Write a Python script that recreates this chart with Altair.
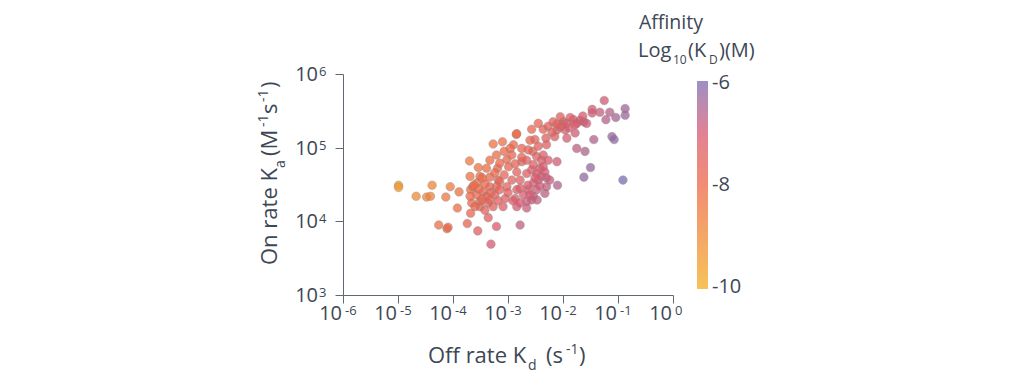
import altair as alt
import pandas as pd

# log10 of off rate Kd (s^-1) and on rate Ka (M^-1 s^-1)
log_kd = [-4.99, -4.99, -4.67, -4.48, -4.41, -4.38, -4.13, -4.05, -3.89, -3.92,
          -4.26, -4.11, -4.09, -3.74, -3.55, -3.36, -3.21, -3.31, -2.78, -3.68,
          -3.51, -3.66, -3.70, -3.27, -3.10, -2.85, -2.90, -3.21, -3.07, -3.02,
          -2.96, -2.75, -3.54, -3.39, -3.19, -3.69, -3.51, -3.33, -3.18, -2.99,
          -2.84, -2.75, -3.68, -3.57, -3.45, -3.39, -3.51, -3.36, -3.24, -3.15,
          -3.02, -2.93, -2.84, -2.72, -2.63, -2.54, -2.45, -2.54, -2.66, -2.87,
          -3.05, -3.09, -2.66, -2.55, -2.48, -2.39, -2.42, -2.48, -2.39, -2.30,
          -2.24, -2.10, -2.33, -2.11, -2.51, -2.30, -2.57, -2.45, -2.36, -2.27,
          -2.18, -2.11, -2.05, -1.99, -1.96, -1.93, -1.87, -1.81, -1.69, -1.62,
          -1.78, -1.93, -2.15, -1.75, -1.60, -1.44, -1.11, -1.07, -1.50, -1.62,
          -0.91, -1.47, -1.47, -1.33, -1.15, -0.87, -0.87, -1.04, -1.22, -1.25,
          -2.84, -2.66, -2.57, -2.78, -3.21, -3.33, -3.57, -3.69, -3.60, -3.42,
          -3.27, -2.84, -2.66, -2.57, -2.48, -2.30, -3.33, -3.15, -2.93, -2.63,
          -2.36, -2.54, -1.75, -1.57, -2.02, -3.64, -3.47, -3.31, -3.15, -3.00,
          -2.91, -2.78, -2.64, -2.51, -2.42, -2.33, -2.60, -2.47, -2.78, -3.18,
          -3.42, -3.53, -2.05, -1.89, -2.11, -2.20, -1.78, -2.31, -2.45, -2.60,
          -2.75, -2.87, -3.07, -3.24, -3.47, -3.62, -3.33, -2.27, -2.36, -1.64]
log_ka = [4.49, 4.46, 4.34, 4.33, 4.34, 4.49, 4.33, 4.47, 4.40, 4.18,
          3.95, 3.90, 3.92, 3.97, 3.87, 4.05, 3.93, 3.69, 3.95, 4.11,
          4.20, 4.25, 4.82, 5.05, 5.08, 5.18, 5.04, 4.90, 4.95, 4.84,
          4.99, 4.99, 4.73, 4.72, 4.72, 4.61, 4.61, 4.60, 4.56, 4.74,
          4.67, 4.81, 4.43, 4.36, 4.40, 4.34, 4.27, 4.25, 4.36, 4.54,
          4.47, 4.56, 4.43, 4.36, 4.43, 4.52, 4.56, 4.34, 4.27, 4.31,
          4.31, 4.20, 4.83, 4.95, 4.88, 4.83, 4.72, 4.65, 4.61, 4.59,
          4.56, 4.49, 4.38, 4.81, 5.11, 5.04, 5.25, 5.33, 5.25, 5.29,
          5.35, 5.24, 5.42, 5.35, 5.24, 5.33, 5.41, 5.38, 5.37, 5.35,
          5.20, 5.13, 5.15, 4.99, 4.95, 5.11, 5.15, 5.11, 4.73, 4.60,
          4.56, 5.52, 5.47, 5.48, 5.48, 5.53, 5.44, 5.41, 5.38, 5.64,
          5.19, 4.65, 4.70, 4.56, 4.47, 4.47, 4.52, 4.34, 4.20, 4.15,
          4.20, 4.20, 4.18, 4.29, 4.43, 4.47, 4.83, 4.79, 4.90, 4.97,
          4.74, 4.77, 5.33, 5.33, 5.31, 4.47, 4.30, 4.39, 4.43, 4.39,
          4.28, 4.45, 4.49, 4.59, 4.48, 4.67, 4.36, 4.29, 4.25, 4.28,
          4.51, 4.44, 5.28, 5.27, 5.32, 5.21, 5.31, 5.13, 5.02, 5.10,
          4.87, 4.78, 4.63, 4.66, 4.59, 4.49, 4.29, 4.83, 4.90, 5.43]

x_ticks = [1e-6, 1e-5, 1e-4, 1e-3, 1e-2, 1e-1, 1e0]
x_exps = ["-6", "-5", "-4", "-3", "-2", "-1", "0"]
y_ticks = [1e3, 1e4, 1e5, 1e6]
y_exps = ["3", "4", "5", "6"]
legend_values = [-10, -8, -6]
color_domain = [-10.04, -8, -7, -5.96]
color_range = ["#f4ae24", "#ee6848", "#da5a72", "#7c6eb2"]

FONT = "Open Sans"
INK = "#3d4755"
AXC = "#5f6873"
W, H = 330, 221

df = pd.DataFrame({"kd": [10 ** v for v in log_kd], "ka": [10 ** v for v in log_ka]})
xdf = pd.DataFrame({"v": x_ticks, "e": x_exps})
ydf = pd.DataFrame({"v": y_ticks, "e": y_exps})

xs = alt.Scale(type="log", domain=[1e-6, 1], nice=False)
ys = alt.Scale(type="log", domain=[1e3, 1e6], nice=False)
xax = alt.Axis(values=x_ticks, labels=False, title=None, tickSize=8, tickColor=AXC,
               domainColor=AXC, grid=False)
yax = alt.Axis(values=y_ticks, labels=False, title=None, tickSize=8, tickColor=AXC,
               domainColor=AXC, grid=False)

points = alt.Chart(df).transform_calculate(
    aff="log(datum.kd / datum.ka) / LN10"
).mark_circle(size=74, opacity=0.76, stroke="#7d7d7d", strokeWidth=0.5).encode(
    x=alt.X("kd:Q", scale=xs, axis=xax),
    y=alt.Y("ka:Q", scale=ys, axis=yax),
    color=alt.Color("aff:Q",
                    scale=alt.Scale(domain=color_domain, range=color_range,
                                    clamp=True, interpolate="rgb"),
                    legend=alt.Legend(title=None, orient="none", legendX=354, legendY=7,
                                      direction="vertical", gradientLength=208,
                                      gradientThickness=11, values=legend_values,
                                      labelExpr="'-' + toString(-datum.value)",
                                      labelFont=FONT, labelFontSize=20, labelColor=INK,
                                      labelOffset=4, gradientStrokeWidth=0, padding=0)),
)

x10 = alt.Chart(xdf).mark_text(align="right", baseline="alphabetic", font=FONT,
                               fontSize=20, color=INK, dx=-1).encode(
    x=alt.X("v:Q", scale=xs, axis=xax), y=alt.value(246), text=alt.value("10"))
xexp = alt.Chart(xdf).mark_text(align="left", baseline="alphabetic", font=FONT,
                                fontSize=13, color=INK, dx=2).encode(
    x=alt.X("v:Q", scale=xs, axis=xax), y=alt.value(241), text="e:N")
y10 = alt.Chart(ydf).mark_text(align="right", baseline="alphabetic", font=FONT,
                               fontSize=20, color=INK, dy=7).encode(
    y=alt.Y("v:Q", scale=ys, axis=yax), x=alt.value(-25), text=alt.value("10"))
yexp = alt.Chart(ydf).mark_text(align="left", baseline="alphabetic", font=FONT,
                                fontSize=13, color=INK, dy=2).encode(
    y=alt.Y("v:Q", scale=ys, axis=yax), x=alt.value(-24), text="e:N")


def seg(s, x, y, size, angle=0):
    kw = dict(align="left", baseline="alphabetic", font=FONT, fontSize=size, color=INK)
    if angle:
        kw["angle"] = angle
    return alt.Chart(pd.DataFrame({"t": [s]})).mark_text(**kw).encode(
        x=alt.value(x), y=alt.value(y), text="t:N")


titles = [
    # x-axis title: Off rate K_d (s^-1)
    seg("Off rate K", 85, 289, 22),
    seg("d", 185, 296, 14),
    seg("(s", 203, 289, 22),
    seg("-1", 223, 280, 14),
    seg(")", 236, 289, 22),
    # y-axis title: On rate K_a (M^-1 s^-1)
    seg("On rate K", -66, 191, 22, 270),
    seg("a", -58, 94, 14, 270),
    seg("(M", -66, 82, 22, 270),
    seg("-1", -75, 53, 14, 270),
    seg("s", -66, 40, 22, 270),
    seg("-1", -75, 28, 14, 270),
    seg(")", -66, 14, 22, 270),
    # legend title
    seg("Affinity", 296, -45, 19.5),
    seg("Log", 295, -17, 20),
    seg("10", 330, -10, 12),
    seg("(K", 345, -17, 20),
    seg("D", 366, -10, 12),
    seg(")(M)", 376, -17, 20),
]

chart = alt.layer(points, x10, xexp, y10, yexp, *titles).properties(
    width=W, height=H,
    padding={"left": 335, "top": 66, "right": 1008 - 335 - W, "bottom": 365 - 66 - H},
    autosize=alt.AutoSizeParams(type="none"),
).configure_view(stroke=None).configure_axis(domainWidth=1, tickWidth=1)

chart.save("out.html", embed_options={"renderer": "svg", "actions": False})
